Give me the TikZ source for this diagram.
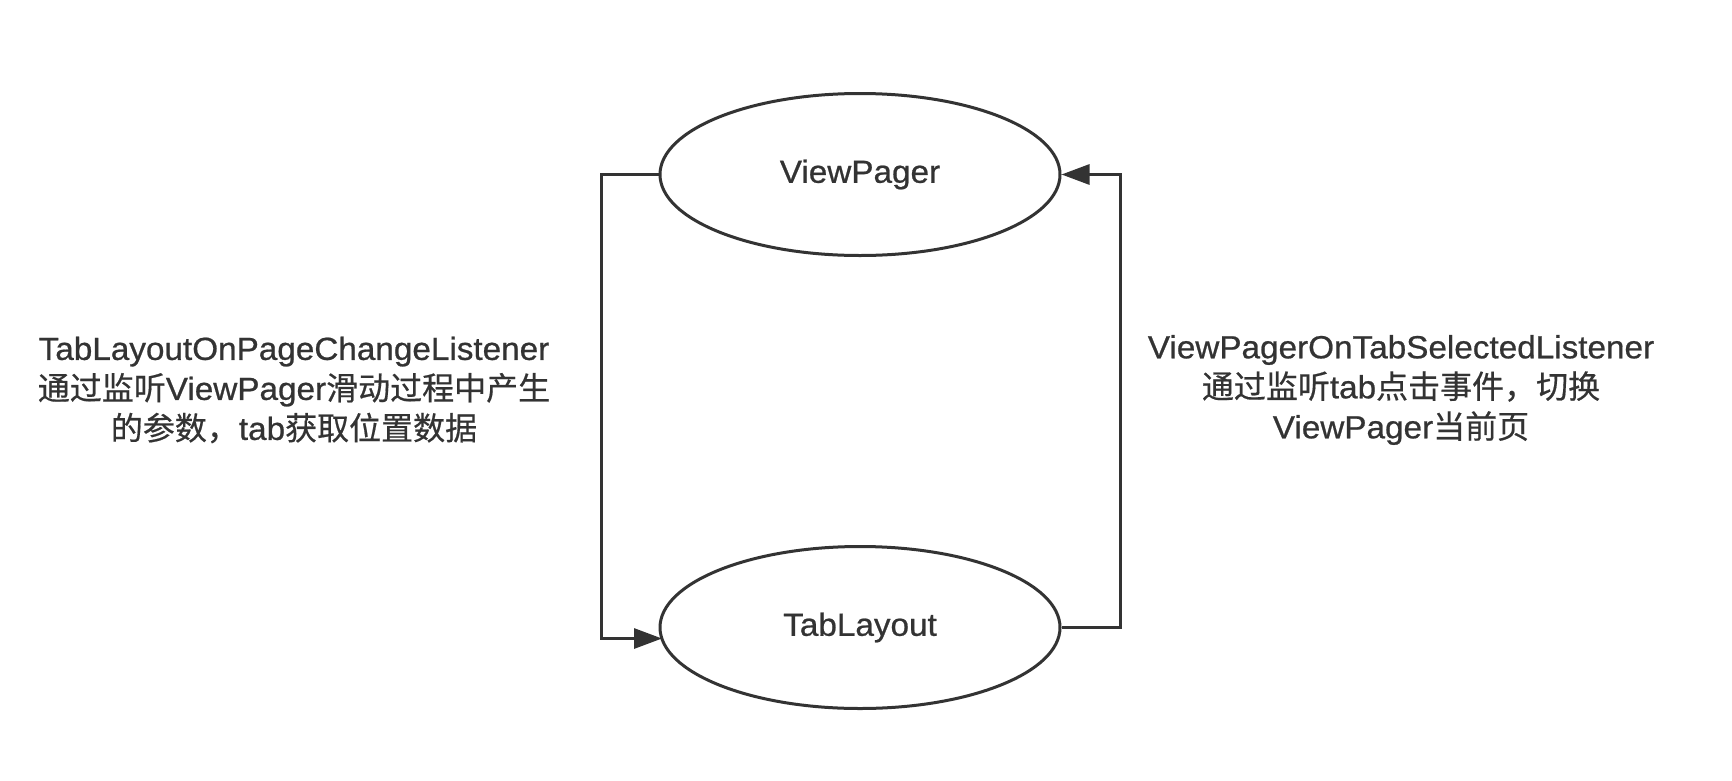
\documentclass[tikz,border=0pt]{standalone}
\usepackage{fontspec}
\setmainfont{Liberation Sans}[FakeBold=0.7,FakeStretch=1.04]
\newfontfamily\cjk{Noto Sans CJK SC}[FakeBold=0.5]
\usetikzlibrary{shapes.geometric,arrows.meta}
\definecolor{ink}{HTML}{333333}
\begin{document}
\begin{tikzpicture}[x=1pt,y=-1pt,
  oval/.style={ellipse,draw=ink,line width=3pt,minimum width=400pt,minimum height=162pt,inner sep=0pt,text=ink,font=\fontsize{32}{38}\selectfont},
  lbl/.style={align=center,text=ink,inner sep=0pt,font=\fontsize{32}{40}\selectfont},
  conn/.style={draw=ink,line width=3pt,-{Triangle[length=28pt,width=20pt]}}]
\useasboundingbox (0,0) rectangle (1732,780);
\fill[white] (0,0) rectangle (1732,780);
\node[oval] (vp) at (860,174.5) {ViewPager};
\node[oval] (tl) at (860,627.5) {TabLayout};
\coordinate (tlin) at (662,638.5);
\coordinate (lc) at (601,174.5);
\coordinate (rc) at (1120,627.5);
\draw[conn] (vp.west) -- (lc) |- (tlin);
\draw[conn] (tl.east) -- (rc) |- (vp.east);
\node[lbl] (ll) at (294,390) {TabLayoutOnPageChangeListener\\{\cjk 通过监听}ViewPager{\cjk 滑动过程中产生}\\{\cjk 的参数，}tab{\cjk 获取位置数据}};
\node[lbl] (rl) at (1401,390) {ViewPagerOnTabSelectedListener\\{\cjk 通过监听}tab{\cjk 点击事件，切换}\\ViewPager{\cjk 当前页}};
\end{tikzpicture}
\end{document}
